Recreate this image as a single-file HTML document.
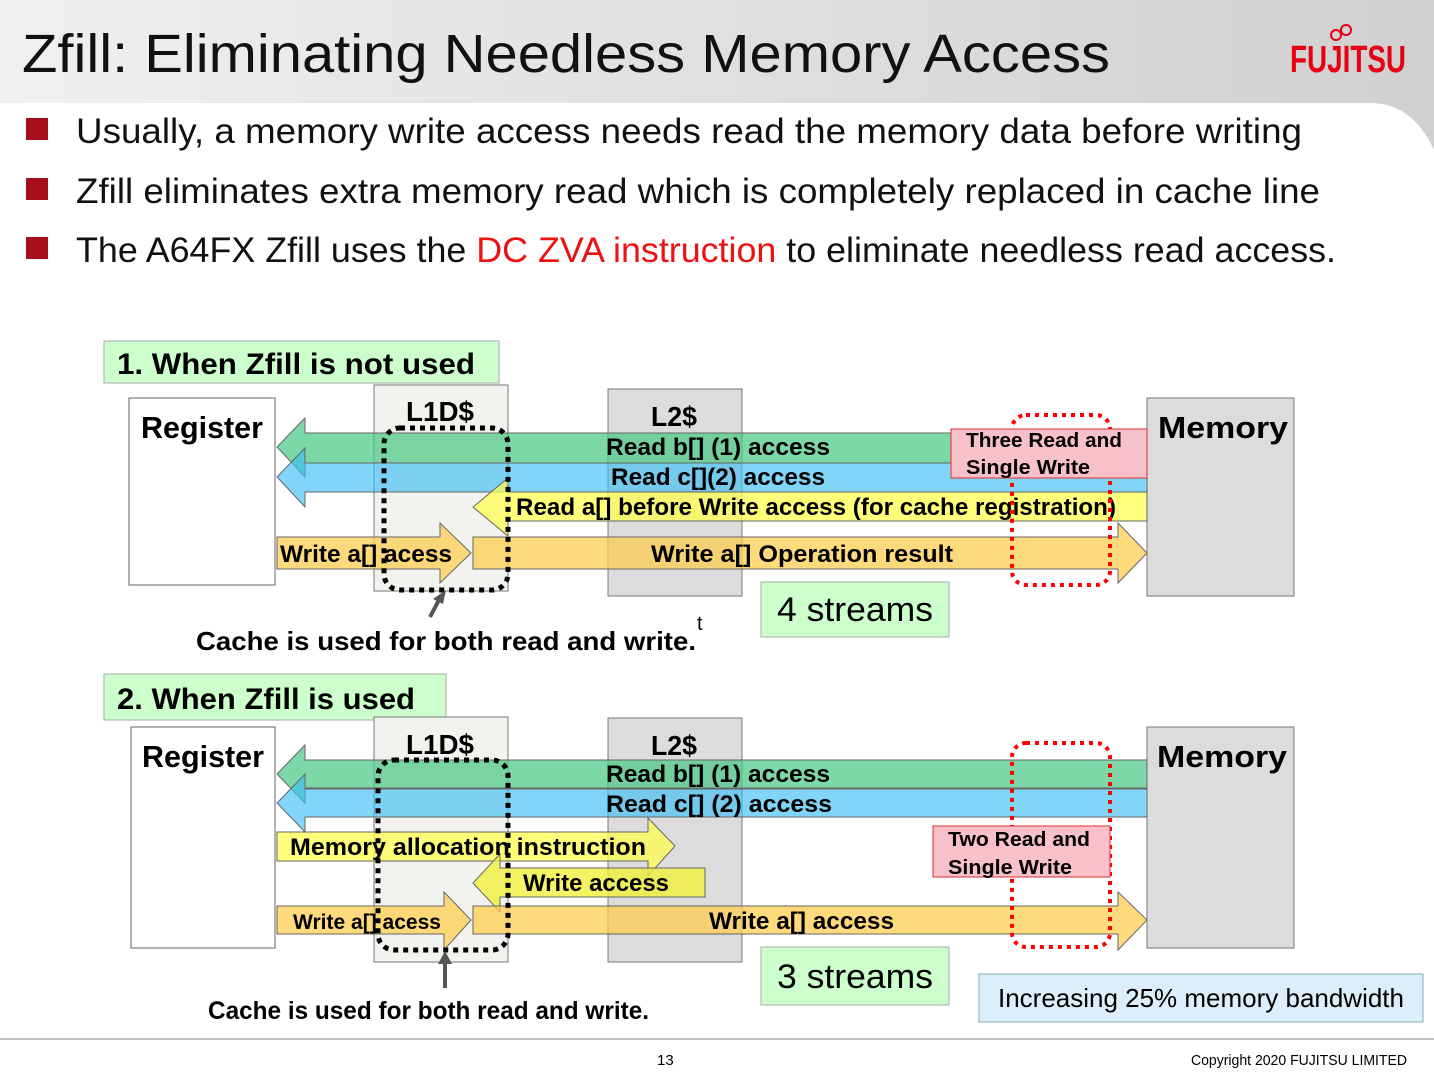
<!DOCTYPE html>
<html><head><meta charset="utf-8"><style>
html,body{margin:0;padding:0;background:#fff;}
svg{display:block;font-family:"Liberation Sans",sans-serif;}
</style></head><body>
<svg width="1434" height="1074" viewBox="0 0 1434 1074" xmlns="http://www.w3.org/2000/svg">
<defs><linearGradient id="hg" x1="0" y1="0" x2="1" y2="0"><stop offset="0" stop-color="#f0f0f0"/><stop offset="1" stop-color="#d0d0d0"/></linearGradient></defs>
<path d="M0 0H1434V150C1420 120 1400 103 1370 103H0Z" fill="url(#hg)"/>
<text x="22" y="72" font-size="54" fill="#111" textLength="1088" lengthAdjust="spacingAndGlyphs">Zfill: Eliminating Needless Memory Access</text>
<text x="1290" y="72" font-size="38" fill="#e60012" font-weight="bold" textLength="116" lengthAdjust="spacingAndGlyphs">FUJITSU</text>
<g stroke="#e60012" stroke-width="2" fill="none"><circle cx="1336" cy="35" r="5"/><circle cx="1346" cy="30" r="5"/></g>
<g fill="#a50f1c"><rect x="26" y="118" width="22" height="22"/><rect x="26" y="178" width="22" height="22"/><rect x="26" y="237" width="22" height="22"/></g>
<g font-size="35" fill="#111">
<text x="76" y="143" textLength="1226" lengthAdjust="spacingAndGlyphs">Usually, a memory write access needs read the memory data before writing</text>
<text x="76" y="203" textLength="1244" lengthAdjust="spacingAndGlyphs">Zfill eliminates extra memory read which is completely replaced in cache line</text>
<text x="76" y="262" textLength="1260" lengthAdjust="spacingAndGlyphs">The A64FX Zfill uses the <tspan fill="#ee1111">DC ZVA instruction</tspan> to eliminate needless read access.</text>
</g>

<!-- Section 1 -->
<rect x="104" y="341" width="395" height="42" fill="#ccffcc" stroke="#aaa"/>
<text x="117" y="374" font-size="30" font-weight="bold" textLength="358" lengthAdjust="spacingAndGlyphs">1. When Zfill is not used</text>
<rect x="129" y="398" width="146" height="187" fill="#fff" stroke="#666"/>
<text x="141" y="438" font-size="31" font-weight="bold" textLength="122" lengthAdjust="spacingAndGlyphs">Register</text>
<rect x="374" y="385" width="134" height="206" fill="#f2f2ee" stroke="#777"/>
<text x="406" y="421" font-size="28" font-weight="bold" textLength="68" lengthAdjust="spacingAndGlyphs">L1D$</text>
<rect x="608" y="389" width="134" height="207" fill="#dcdcdc" stroke="#777"/>
<text x="651" y="426" font-size="28" font-weight="bold" textLength="46" lengthAdjust="spacingAndGlyphs">L2$</text>
<rect x="1147" y="398" width="147" height="198" fill="#dcdcdc" stroke="#777"/>
<text x="1158" y="438" font-size="31" font-weight="bold" textLength="130" lengthAdjust="spacingAndGlyphs">Memory</text>
<g stroke="#666" stroke-width="1">
<path d="M1147 433H305V418L277 447L305 477V463H1147Z" fill="rgba(70,200,130,0.7)"/>
<path d="M1147 463H305V448L277 477L305 507V492H1147Z" fill="rgba(60,190,245,0.65)"/>
<path d="M1147 492H508V478L473 507L508 536V521H1147Z" fill="rgba(255,255,80,0.75)"/>
<path d="M277 537H440V523L471 553L440 583V569H277Z" fill="rgba(255,205,80,0.75)"/>
<path d="M473 537H1118V523L1147 553L1118 583V569H473Z" fill="rgba(255,205,80,0.75)"/>
</g>
<g font-size="24" font-weight="bold">
<text x="606" y="455" textLength="224" lengthAdjust="spacingAndGlyphs">Read b[] (1)  access</text>
<text x="611" y="485" textLength="214" lengthAdjust="spacingAndGlyphs">Read c[](2)  access</text>
<text x="516" y="515" textLength="600" lengthAdjust="spacingAndGlyphs">Read a[] before Write access (for cache registration)</text>
<text x="280" y="562" textLength="172" lengthAdjust="spacingAndGlyphs">Write a[] acess</text>
<text x="651" y="562" textLength="302" lengthAdjust="spacingAndGlyphs">Write a[] Operation result</text>
</g>
<rect x="1012" y="415" width="98" height="170" rx="14" fill="none" stroke="#f00" stroke-width="4" stroke-dasharray="4 5"/>
<rect x="951" y="429" width="196" height="49" fill="#f8c0c8" stroke="#e03030"/>
<text x="966" y="447" font-size="20" font-weight="bold" textLength="156" lengthAdjust="spacingAndGlyphs">Three Read and</text>
<text x="966" y="474" font-size="20" font-weight="bold" textLength="124" lengthAdjust="spacingAndGlyphs">Single Write</text>
<rect x="384" y="428" width="124" height="162" rx="16" fill="none" stroke="#000" stroke-width="5" stroke-dasharray="5 5"/>
<rect x="761" y="582" width="188" height="55" fill="#ccffcc" stroke="#aaa"/>
<text x="777" y="621" font-size="34" textLength="156" lengthAdjust="spacingAndGlyphs">4 streams</text>
<path d="M430 617L440 598" stroke="#555" stroke-width="4"/><path d="M446 590L433 599L443 604Z" fill="#555"/>
<text x="196" y="650" font-size="26" font-weight="bold" textLength="500" lengthAdjust="spacingAndGlyphs">Cache is used for both read and write.</text>
<text x="697" y="630" font-size="20">t</text>

<!-- Section 2 -->
<rect x="104" y="674" width="342" height="46" fill="#ccffcc" stroke="#aaa"/>
<text x="117" y="709" font-size="30" font-weight="bold" textLength="298" lengthAdjust="spacingAndGlyphs">2. When Zfill is used</text>
<rect x="131" y="727" width="144" height="221" fill="#fff" stroke="#666"/>
<text x="142" y="767" font-size="31" font-weight="bold" textLength="122" lengthAdjust="spacingAndGlyphs">Register</text>
<rect x="374" y="717" width="134" height="245" fill="#f2f2ee" stroke="#777"/>
<text x="406" y="754" font-size="28" font-weight="bold" textLength="68" lengthAdjust="spacingAndGlyphs">L1D$</text>
<rect x="608" y="718" width="134" height="244" fill="#dcdcdc" stroke="#777"/>
<text x="651" y="755" font-size="28" font-weight="bold" textLength="46" lengthAdjust="spacingAndGlyphs">L2$</text>
<rect x="1147" y="727" width="147" height="221" fill="#dcdcdc" stroke="#777"/>
<text x="1157" y="767" font-size="31" font-weight="bold" textLength="130" lengthAdjust="spacingAndGlyphs">Memory</text>
<g stroke="#666" stroke-width="1">
<path d="M1147 760H305V745L277 774L305 803V788H1147Z" fill="rgba(70,200,130,0.7)"/>
<path d="M1147 789H305V774L277 803L305 832V817H1147Z" fill="rgba(60,190,245,0.65)"/>
<path d="M277 832H648V818L675 846L648 876V861H277Z" fill="rgba(255,255,80,0.75)"/>
<path d="M705 868H500V854L473 883L500 912V897H705Z" fill="rgba(240,240,60,0.8)"/>
<path d="M277 906H444V892L471 920L444 950V934H277Z" fill="rgba(255,205,80,0.75)"/>
<path d="M473 906H1118V892L1147 920L1118 950V934H473Z" fill="rgba(255,205,80,0.75)"/>
</g>
<g font-size="24" font-weight="bold">
<text x="606" y="782" textLength="224" lengthAdjust="spacingAndGlyphs">Read b[] (1)  access</text>
<text x="606" y="812" textLength="226" lengthAdjust="spacingAndGlyphs">Read c[] (2)  access</text>
<text x="290" y="855" textLength="356" lengthAdjust="spacingAndGlyphs">Memory allocation instruction</text>
<text x="523" y="891" textLength="146" lengthAdjust="spacingAndGlyphs">Write access</text>
<text x="293" y="929" font-size="21" textLength="148" lengthAdjust="spacingAndGlyphs">Write a[] acess</text>
<text x="709" y="929" textLength="185" lengthAdjust="spacingAndGlyphs">Write a[] access</text>
</g>
<rect x="1012" y="743" width="98" height="204" rx="14" fill="none" stroke="#f00" stroke-width="4" stroke-dasharray="4 5"/>
<rect x="933" y="826" width="177" height="51" fill="#f8c0c8" stroke="#e03030"/>
<text x="948" y="846" font-size="20" font-weight="bold" textLength="142" lengthAdjust="spacingAndGlyphs">Two Read and</text>
<text x="948" y="874" font-size="20" font-weight="bold" textLength="124" lengthAdjust="spacingAndGlyphs">Single Write</text>
<rect x="378" y="760" width="130" height="190" rx="16" fill="none" stroke="#000" stroke-width="5" stroke-dasharray="5 5"/>
<rect x="761" y="947" width="188" height="58" fill="#ccffcc" stroke="#aaa"/>
<text x="777" y="988" font-size="34" textLength="156" lengthAdjust="spacingAndGlyphs">3 streams</text>
<rect x="979" y="974" width="444" height="48" fill="#dbeefa" stroke="#8ab"/>
<text x="998" y="1007" font-size="26" textLength="406" lengthAdjust="spacingAndGlyphs">Increasing 25% memory bandwidth</text>
<path d="M445 988V962" stroke="#555" stroke-width="4"/><path d="M445 951L438 964H452Z" fill="#555"/>
<text x="208" y="1019" font-size="25" font-weight="bold" textLength="441" lengthAdjust="spacingAndGlyphs">Cache is used for both read and write.</text>

<line x1="0" y1="1039" x2="1434" y2="1039" stroke="#aaa" stroke-width="1.5"/>
<text x="657" y="1065" font-size="15">13</text>
<text x="1191" y="1065" font-size="15" textLength="216" lengthAdjust="spacingAndGlyphs">Copyright 2020 FUJITSU LIMITED</text>
</svg>
</body></html>
